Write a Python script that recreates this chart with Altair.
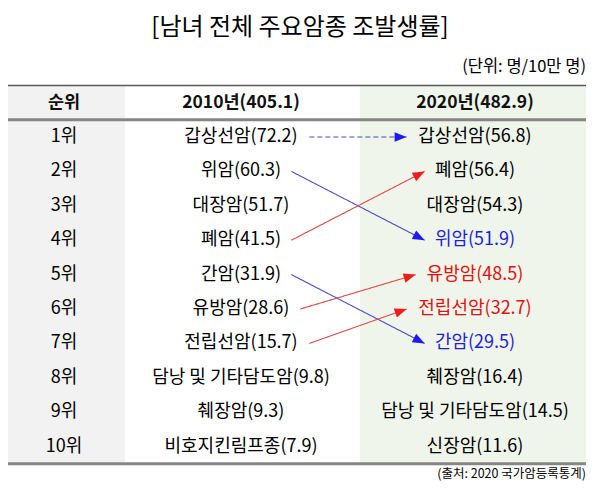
import altair as alt
import numpy as np
import pandas as pd

# ---- data ----
ranks = list(range(1, 11))
rank_labels = [f"{r}위" for r in ranks]
header_labels = ["순위", "2010년(405.1)", "2020년(482.9)"]

cancer_2010 = ["갑상선암", "위암", "대장암", "폐암", "간암", "유방암", "전립선암",
               "담낭 및 기타담도암", "췌장암", "비호지킨림프종"]
rate_2010 = [72.2, 60.3, 51.7, 41.5, 31.9, 28.6, 15.7, 9.8, 9.3, 7.9]

cancer_2020 = ["갑상선암", "폐암", "대장암", "위암", "유방암", "전립선암", "간암",
               "췌장암", "담낭 및 기타담도암", "신장암"]
rate_2020 = [56.8, 56.4, 54.3, 51.9, 48.5, 32.7, 29.5, 16.4, 14.5, 11.6]
# colour of the 2020 labels: "" black, "down" blue, "up" red
mark_2020 = ["", "", "", "down", "up", "up", "down", "", "", ""]

arrow_cancers = ["갑상선암", "위암", "폐암", "간암", "유방암", "전립선암"]

title_text = "[남녀 전체 주요암종 조발생률]"
unit_text = "(단위: 명/10만 명)"
source_text = "(출처: 2020 국가암등록통계)"

# ---- layout ----
W, H = 584, 476
ROW_H = 34.4
ROW1_Y = 129
X_LEFT, X_B1, X_B2, X_RIGHT = 0, 117, 352, 578
X_C = [56, 233, 467]
FONT = "Noto Sans CJK KR"
FS = 18
GAP = 9

BLACK = "#000000"
BLUE_TXT, RED_TXT = "#1f1fd6", "#e01010"
BLUE_LINE, RED_LINE = "#4c4cc6", "#e04646"
BLUE_HEAD, RED_HEAD = "#1c1cf0", "#f01c1c"


def text_w(s, size=FS):
    w = 0
    for ch in s:
        if "\uac00" <= ch <= "\ud7a3":
            w += 1.0
        elif ch.isdigit():
            w += 0.555
        elif ch in "()":
            w += 0.33
        elif ch == ".":
            w += 0.27
        elif ch == " ":
            w += 0.22
        else:
            w += 0.5
    return w * size


lab_2010 = [f"{c}({v:.1f})" for c, v in zip(cancer_2010, rate_2010)]
lab_2020 = [f"{c}({v:.1f})" for c, v in zip(cancer_2020, rate_2020)]

x_sc = alt.Scale(domain=[0, W], nice=False, zero=False)
y_sc = alt.Scale(domain=[1 - ROW1_Y / ROW_H, 1 + (H - ROW1_Y) / ROW_H],
                 reverse=True, nice=False, zero=False)

# backgrounds
bg_rank = alt.Chart(pd.DataFrame({"x": [X_LEFT], "x2": [X_B1], "y": [-0.5], "y2": [10.5]})
                    ).mark_rect(color="#f2f2f2").encode(
    x=alt.X("x:Q", scale=x_sc, axis=None), x2="x2:Q",
    y=alt.Y("y:Q", scale=y_sc, axis=None), y2="y2:Q")
bg_2020 = alt.Chart(pd.DataFrame({"x": [X_B2], "x2": [X_RIGHT], "y": [-0.5], "y2": [10.5]})
                    ).mark_rect(color="#eff5ea").encode(
    x=alt.X("x:Q", scale=x_sc, axis=None), x2="x2:Q",
    y=alt.Y("y:Q", scale=y_sc, axis=None), y2="y2:Q")

# horizontal rules
top_line = alt.Chart(pd.DataFrame({"y": [-0.5]})).mark_rule(
    color="#5a5a5a", strokeWidth=1.5).encode(
    x=alt.value(X_LEFT), x2=alt.value(X_RIGHT), y=alt.Y("y:Q", scale=y_sc, axis=None))
mid_lines = alt.Chart(pd.DataFrame({"y": [0.5, 10.5]})).mark_rule(
    color="#858585", strokeWidth=3).encode(
    x=alt.value(X_LEFT), x2=alt.value(X_RIGHT), y=alt.Y("y:Q", scale=y_sc, axis=None))

# header
hdr = pd.DataFrame({"x": X_C, "rank": [0, 0, 0], "label": header_labels})
hdr_layer = alt.Chart(hdr).mark_text(font=FONT, fontSize=17.5, fontWeight="bold",
                                     color="#111111", baseline="middle").encode(
    x=alt.X("x:Q", scale=x_sc, axis=None),
    y=alt.Y("rank:Q", scale=y_sc, axis=None), text="label:N")

# body cells
cells = pd.DataFrame({
    "x": [X_C[0]] * 10 + [X_C[1]] * 10 + [X_C[2]] * 10,
    "rank": ranks * 3,
    "label": rank_labels + lab_2010 + lab_2020,
    "tone": [""] * 20 + mark_2020,
})
cells["tone"] = cells["tone"].replace("", "plain")
cell_layer = alt.Chart(cells).mark_text(font=FONT, fontSize=FS, baseline="middle").encode(
    x=alt.X("x:Q", scale=x_sc, axis=None),
    y=alt.Y("rank:Q", scale=y_sc, axis=None), text="label:N",
    color=alt.Color("tone:N", scale=alt.Scale(domain=["plain", "down", "up"],
                                               range=[BLACK, BLUE_TXT, RED_TXT]), legend=None),
)

# arrows
rows = []
for c in arrow_cancers:
    r0 = cancer_2010.index(c) + 1
    r1 = cancer_2020.index(c) + 1
    x0 = X_C[1] + text_w(lab_2010[r0 - 1]) / 2 + GAP
    x1 = X_C[2] - text_w(lab_2020[r1 - 1]) / 2 - GAP
    ang = np.degrees(np.arctan2((r1 - r0) * ROW_H, x1 - x0)) % 360
    kind = "up" if r1 < r0 else ("same" if r1 == r0 else "down")
    rows.append({"x0": x0, "x1": x1, "r0": r0, "r1": r1, "angle": ang, "kind": kind,
                 "dash": "dash" if r1 == r0 else "solid"})
arrows = pd.DataFrame(rows)

arrow_lines = alt.Chart(arrows).mark_rule(strokeWidth=1.1).encode(
    x=alt.X("x0:Q", scale=x_sc, axis=None), x2="x1:Q",
    y=alt.Y("r0:Q", scale=y_sc, axis=None), y2="r1:Q",
    color=alt.Color("kind:N", scale=alt.Scale(domain=["same", "down", "up"],
                                               range=[BLUE_LINE, BLUE_LINE, RED_LINE]), legend=None),
    strokeDash=alt.StrokeDash("dash:N", scale=alt.Scale(domain=["dash", "solid"],
                                                        range=[[5, 3], [1, 0]]), legend=None),
)
arrow_heads = alt.Chart(arrows).mark_point(
    shape="M0,0L-2,-0.8L-2,0.8Z", filled=True, size=144, opacity=1, strokeWidth=0).encode(
    x=alt.X("x1:Q", scale=x_sc, axis=None),
    y=alt.Y("r1:Q", scale=y_sc, axis=None),
    angle=alt.Angle("angle:Q", scale=None),
    fill=alt.Fill("kind:N", scale=alt.Scale(domain=["same", "down", "up"],
                                             range=[BLUE_HEAD, BLUE_HEAD, RED_HEAD]), legend=None),
)

# title, unit, source
one = pd.DataFrame({"t": [0]})
title = alt.Chart(one).mark_text(font=FONT, fontSize=24, color=BLACK,
                                 baseline="middle", align="center", text=title_text).encode(
    x=alt.value(292), y=alt.value(20))
unit = alt.Chart(one).mark_text(font=FONT, fontSize=16.5, color=BLACK, baseline="middle",
                                align="right", text=unit_text).encode(
    x=alt.value(X_RIGHT), y=alt.value(59))
source = alt.Chart(one).mark_text(font=FONT, fontSize=12.5, color=BLACK, baseline="middle",
                                  align="right", text=source_text).encode(
    x=alt.value(X_RIGHT), y=alt.value(466))

chart = alt.layer(
    bg_rank, bg_2020, top_line, mid_lines, hdr_layer, cell_layer,
    arrow_lines, arrow_heads, title, unit, source,
).resolve_scale(
    color="independent", fill="independent", strokeDash="independent",
).properties(
    width=W, height=H, padding=0, autosize=alt.AutoSizeParams(type="none"),
    background="white",
).configure_view(stroke=None)

chart.save("out.html", embed_options={"renderer": "svg", "actions": False})
